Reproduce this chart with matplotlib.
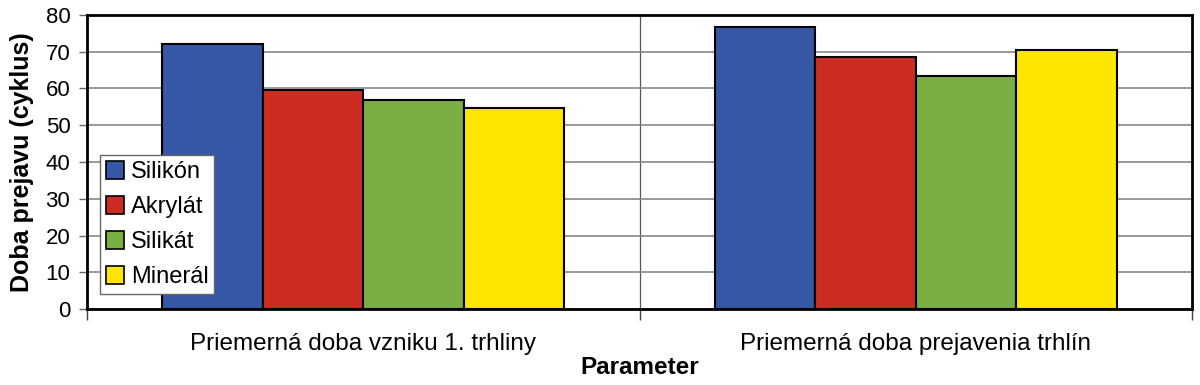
import matplotlib
matplotlib.use("Agg")
import matplotlib.pyplot as plt
import numpy as np

categories = ["Priemerná doba vzniku 1. trhliny", "Priemerná doba prejavenia trhlín"]
series_names = ["Silikón", "Akrylát", "Silikát", "Minerál"]
silikon = [72.2, 76.6]
akrylat = [59.7, 68.6]
silikat = [56.9, 63.5]
mineral = [54.6, 70.4]
colors = ["#3656A6", "#CC2C22", "#7AAE42", "#FFE600"]

plt.rcParams['font.family'] = ['Liberation Sans', 'DejaVu Sans']

fig = plt.figure(figsize=(12, 3.85), dpi=100)
ax = fig.add_axes([87/1200, 1-309/385, 1105/1200, 294/385])

values = [silikon, akrylat, silikat, mineral]
x = np.arange(len(categories))
bw = 0.182
for i, (name, vals, c) in enumerate(zip(series_names, values, colors)):
    ax.bar(x + (i - 1.5) * bw, vals, bw, color=c, edgecolor="black", linewidth=1.5,
           label=name, zorder=3)

ax.set_xlim(-0.5, 1.5)
ax.set_ylim(0, 80)
ax.set_yticks(np.arange(0, 81, 10))
ax.yaxis.grid(True, color="#888888", linewidth=1.2, zorder=0)
ax.set_xticks(x)
ax.set_xticklabels(categories, fontsize=17.5)
ax.tick_params(axis='x', length=0, pad=17)
ax.set_xticks([-0.5, 0.5, 1.5], minor=True)
ax.tick_params(axis='x', which='minor', length=8, width=1, color="#444444")
ax.axvline(0.5, color="#555555", linewidth=0.9, zorder=1)
ax.tick_params(axis='y', labelsize=16, length=6, width=1, color="#666666", pad=6)
for s in ax.spines.values():
    s.set_linewidth(2)
    s.set_color("black")
    s.set_zorder(4)

ax.set_ylabel("Doba prejavu (cyklus)", fontsize=18, fontweight="bold", labelpad=8)
ax.set_xlabel("Parameter", fontsize=17.5, fontweight="bold", labelpad=1)

leg = ax.legend(loc="lower left", bbox_to_anchor=(13/1105, 15/294), fontsize=17,
                frameon=True, fancybox=False, edgecolor="#666666", framealpha=1,
                handlelength=0.75, handleheight=0.75, handletextpad=0.3,
                labelspacing=0.55, borderpad=0.25, borderaxespad=0)
leg.get_frame().set_linewidth(1)
for h in leg.legend_handles:
    h.set_linewidth(1.2)
leg.set_zorder(5)

fig.savefig("out.png", dpi=100)
